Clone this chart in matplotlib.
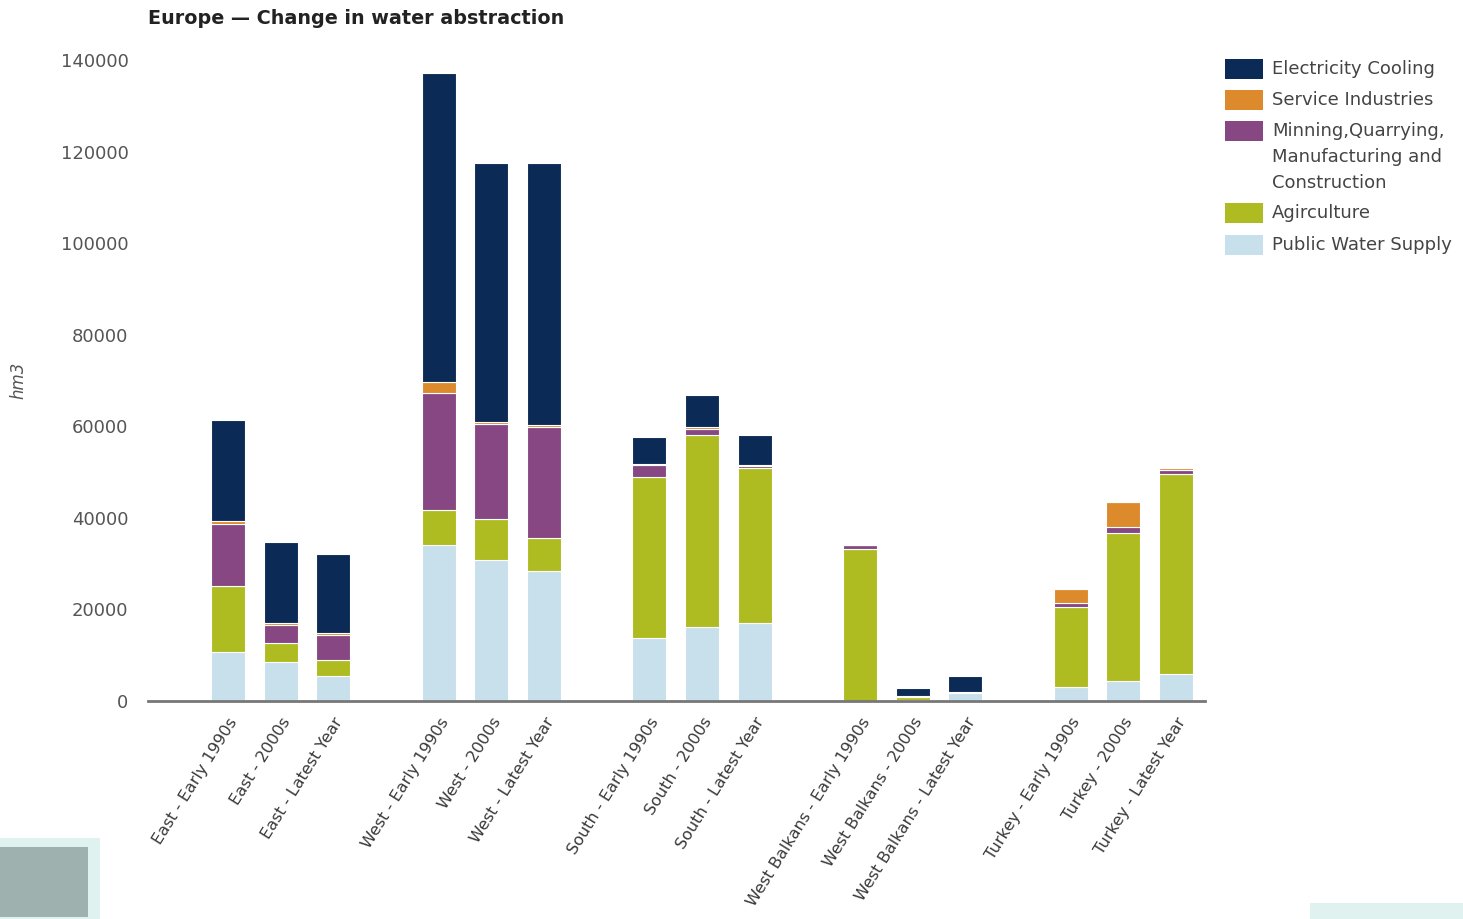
import numpy as np
import matplotlib.pyplot as plt
from matplotlib.patches import Rectangle

# Water abstraction by sector (hm3), stacked bottom to top
periods = [
    "East - Early 1990s", "East - 2000s", "East - Latest Year",
    "West - Early 1990s", "West - 2000s", "West - Latest Year",
    "South - Early 1990s", "South - 2000s", "South - Latest Year",
    "West Balkans - Early 1990s", "West Balkans - 2000s", "West Balkans - Latest Year",
    "Turkey - Early 1990s", "Turkey - 2000s", "Turkey - Latest Year",
]
public_water = [10800, 8600, 5500, 34000, 30900, 28500, 13700, 16200, 17100, 0, 300, 1800, 3000, 4400, 5900]
agriculture = [14300, 4000, 3500, 7700, 8800, 7000, 35300, 41900, 33700, 33300, 500, 200, 17500, 32400, 43700]
mining = [13500, 4000, 5500, 25500, 20900, 24400, 2500, 1400, 500, 700, 0, 0, 1000, 1100, 800]
service = [700, 500, 300, 2500, 400, 400, 300, 300, 200, 0, 300, 0, 2900, 5600, 400]
electricity = [22000, 17700, 17200, 67400, 56400, 57100, 5900, 7000, 6700, 0, 1700, 3400, 0, 0, 0]

series = [
    ("Public Water Supply", public_water, "#c7e0eb"),
    ("Agirculture", agriculture, "#aebc21"),
    ("Minning,Quarrying,\nManufacturing and\nConstruction", mining, "#874783"),
    ("Service Industries", service, "#dc8a2c"),
    ("Electricity Cooling", electricity, "#0b2a55"),
]

W, H = 1463, 919

# one empty slot between regions
x = np.array([i + i // 3 for i in range(len(periods))], dtype=float)

fig = plt.figure(figsize=(W / 100, H / 100), dpi=100)
ax = fig.add_axes([148 / W, 218 / H, 1057 / W, 641 / H])

bottom = np.zeros(len(periods))
for name, vals, color in series:
    vals = np.array(vals, dtype=float)
    ax.bar(x, vals, width=0.65, bottom=bottom, color=color,
           edgecolor="white", linewidth=0.8, label=name)
    bottom += vals

ax.set_xlim(-1.52, 18.55)
ax.set_ylim(0, 140000)
ax.set_yticks(np.arange(0, 140001, 20000))
ax.tick_params(axis="y", length=0, pad=14, labelsize=13, labelcolor="#555555")
ax.tick_params(axis="x", length=0, pad=10)
ax.set_xticks(x)
ax.set_xticklabels(periods, rotation=58, ha="right", va="top",
                   rotation_mode="anchor", fontsize=11.6, color="#3a3a3a")

for side in ["top", "right", "left"]:
    ax.spines[side].set_visible(False)
ax.spines["bottom"].set_color("#777777")
ax.spines["bottom"].set_linewidth(2)

fig.text(18 / W, 1 - 380 / H, "hm3", rotation=90, style="italic",
         fontsize=12, color="#555555", ha="center", va="center")
fig.text(148 / W, 1 - 18 / H, "Europe \u2014 Change in water abstraction",
         fontsize=13.8, fontweight="bold", color="#222222", ha="left", va="center")

# legend drawn as swatches + labels, listed top of stack first
row_tops = [59, 90, 121, 203, 235]
for (name, _, color), top in zip(series[::-1], row_tops):
    fig.patches.append(Rectangle((1225 / W, 1 - (top + 20) / H), 38 / W, 20 / H,
                                 transform=fig.transFigure, facecolor=color,
                                 edgecolor="none"))
    fig.text(1272 / W, 1 - (top + 10) / H, name.split("\n")[0], fontsize=13,
             color="#444444", ha="left", va="center")
    for k, extra in enumerate(name.split("\n")[1:], start=1):
        fig.text(1272 / W, 1 - (top + 10 + 26 * k) / H, extra, fontsize=13,
                 color="#444444", ha="left", va="center")

# corner decorations
fig.patches.append(Rectangle((0, 0), 100 / W, 81 / H, transform=fig.transFigure,
                             facecolor="#dff2ef", edgecolor="none"))
fig.patches.append(Rectangle((0, 2 / H), 88 / W, 70 / H, transform=fig.transFigure,
                             facecolor="#9fb1af", edgecolor="none"))
fig.patches.append(Rectangle((1310 / W, 0), 153 / W, 16 / H, transform=fig.transFigure,
                             facecolor="#dff2ef", edgecolor="none"))

fig.savefig("out.png", dpi=100)
